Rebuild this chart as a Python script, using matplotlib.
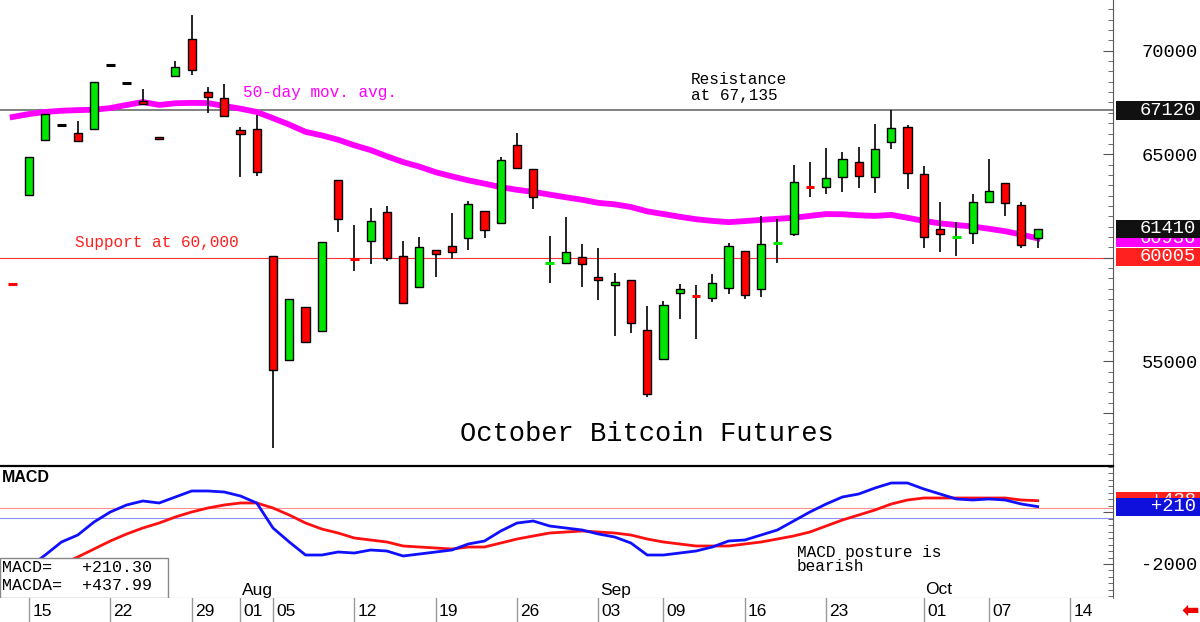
import numpy as np
import pandas as pd
import matplotlib
matplotlib.use('Agg')
import matplotlib.pyplot as plt
from matplotlib.patches import Rectangle
from matplotlib.ticker import FixedLocator, MultipleLocator

plt.rcParams['axes.unicode_minus'] = False
MONO = 'Liberation Mono'
SANS = 'Liberation Sans'

# daily bars, 12 Jul - 10 Oct (CME business days)
opens = [58740, 63030, 65690, 66410, 66030, 66220, 69310, 68440, 67570, 65830,
         68780, 70570, 68010, 67720, 66170, 66220, 60085, 55060, 57620, 56460,
         63760, 59960, 60810, 62210, 60080, 58590, 60380, 60570, 60950, 62260,
         61680, 65450, 64290, 59740, 59750, 60040, 59070, 58690, 58920, 56510,
         55110, 58300, 58160, 58060, 58540, 60330, 58490, 60700, 61150, 63430,
         63420, 63900, 64630, 63900, 65590, 66320, 64050, 61390, 60990, 61200,
         62690, 63610, 62550, 60950]
highs = [58740, 64870, 66940, 66410, 66610, 68490, 69310, 68440, 68150, 65830,
         69500, 71730, 68250, 68390, 66320, 66900, 60085, 58010, 57620, 60760,
         63760, 61580, 62400, 62500, 60810, 61000, 60380, 62160, 62740, 62260,
         64870, 66030, 64290, 61050, 61970, 60670, 60470, 59270, 58920, 57670,
         57910, 58730, 58680, 59220, 60710, 60330, 62020, 61870, 64480, 64630,
         65300, 65110, 65350, 66460, 67140, 66410, 64430, 62690, 61730, 63080,
         64770, 63610, 62690, 61410]
lows = [58720, 63030, 65690, 66410, 65640, 66220, 69310, 68440, 67430, 65730,
        68780, 68830, 66990, 66850, 63900, 63950, 50810, 55060, 55930, 56460,
        61240, 59360, 59700, 59840, 57820, 58590, 59070, 59940, 60380, 60950,
        61680, 64340, 62360, 58780, 59750, 58590, 57960, 56220, 56370, 53280,
        55110, 57040, 56080, 57870, 58250, 58010, 58110, 59750, 61050, 62940,
        63080, 63180, 63370, 63130, 65250, 63320, 60470, 60280, 60080, 60670,
        62690, 62020, 60470, 60470]
closes = [58720, 64870, 66940, 66410, 65640, 68490, 69310, 68440, 67430, 65730,
          69210, 69070, 67770, 66850, 65980, 64140, 54580, 58010, 55930, 60760,
          61870, 59940, 61780, 59990, 57820, 60520, 60180, 60280, 62600, 61340,
          64720, 64340, 62940, 59760, 60280, 59700, 58920, 58830, 56850, 53420,
          57720, 58490, 58140, 58780, 60570, 58200, 60670, 60720, 63660, 63410,
          63850, 64770, 63950, 65250, 66270, 64090, 61000, 61150, 61010, 62690,
          63220, 62640, 60620, 61410]
ma50 = [66800, 66940, 67040, 67100, 67130, 67150, 67230, 67380, 67520, 67380,
        67460, 67480, 67470, 67330, 67200, 67040, 66740, 66430, 66080, 65910,
        65700, 65430, 65200, 64900, 64620, 64400, 64130, 63930, 63740, 63580,
        63410, 63280, 63180, 63050, 62920, 62800, 62650, 62580, 62450, 62240,
        62110, 61980, 61860, 61780, 61720, 61770, 61830, 61880, 61930, 62020,
        62110, 62100, 62050, 62020, 62070, 61930, 61780, 61660, 61580, 61510,
        61400, 61280, 61120, 60936]
macd = [-2600, -2116, -1654, -1153, -884, -383, 2, 272, 426, 349,
        580, 811, 811, 772, 618, 349, -614, -1153, -1654, -1654,
        -1538, -1577, -1461, -1500, -1692, -1615, -1538, -1461, -1230, -1115,
        -730, -422, -345, -537, -614, -691, -845, -960, -1192, -1654,
        -1654, -1577, -1500, -1346, -1115, -1076, -884, -691, -345, 2,
        310, 580, 695, 926, 1119, 1119, 888, 695, 503, 464,
        503, 464, 310, 210.30]
macda = [-2880, -2578, -2270, -2000, -1730, -1423, -1115, -845, -614, -422,
         -190, 2, 156, 272, 349, 349, 156, -114, -422, -653,
         -807, -999, -1076, -1153, -1307, -1346, -1384, -1423, -1346, -1346,
         -1192, -1038, -922, -807, -768, -730, -768, -807, -884, -1038,
         -1153, -1230, -1307, -1307, -1307, -1230, -1153, -1038, -922, -768,
         -537, -306, -114, 79, 310, 464, 541, 541, 541, 541,
         541, 541, 464, 437.99]

support = 60005
resistance = 67120
last_price = 61410
last_ma = 60936
macd_lines = [170, -230]

tick_dates = ['2024-07-15', '2024-07-22', '2024-07-29', '2024-08-01', '2024-08-05',
              '2024-08-12', '2024-08-19', '2024-08-26', '2024-09-03', '2024-09-09',
              '2024-09-16', '2024-09-23', '2024-10-01', '2024-10-07', '2024-10-14']
month_labels = {'2024-08-01': 'Aug', '2024-09-03': 'Sep', '2024-10-01': 'Oct'}

days = pd.bdate_range('2024-07-12', '2024-10-14')
days = days[days != pd.Timestamp('2024-09-02')]
x = np.arange(len(opens))

W, H = 1200.0, 622.0
fig = plt.figure(figsize=(12, 6.22), dpi=100)


def fbox(l, t, r, b):
    return [l / W, 1 - b / H, (r - l) / W, (b - t) / H]


ax = fig.add_axes(fbox(0, 0, 1113, 466))
axm = fig.add_axes(fbox(0, 466, 1113, 598))
axd = fig.add_axes(fbox(0, 598, 1113, 622))
for a in (ax, axm, axd):
    a.set_xlim(-0.78, 67.63)
    a.set_xticks([])

# ---- price panel
o, h, l, c = map(np.array, (opens, highs, lows, closes))
body = np.abs(c - o)
col = np.where(c > o, '#00e600', np.where(c < o, '#ff0000', 'black'))
dash = body < 60
full = ~dash

ax.axhline(resistance, color='#777777', lw=1.3, zorder=1)
ax.axhline(support, color='#ff3030', lw=0.8, zorder=1)
ax.plot(x, ma50, color='#ff00ff', lw=4.2, zorder=1.5)
ax.vlines(x, l, h, color='black', lw=1.2, zorder=2)
ax.bar(x[full], body[full], bottom=np.minimum(o, c)[full], width=0.5,
       color=col[full], edgecolor='black', lw=1.0, zorder=3)
ax.hlines(c[dash], x[dash] - 0.27, x[dash] + 0.27, colors=col[dash], lw=2.2, zorder=3)
ax.set_ylim(49941, 72449)

ax.text(243 / 1113, 1 - 93 / 466, '50-day mov. avg.', transform=ax.transAxes,
        color='#ff00ff', fontsize=11.6, family=MONO, va='center')
ax.text(75 / 1113, 1 - 243 / 466, 'Support at 60,000', transform=ax.transAxes,
        color='#ff2020', fontsize=11.6, family=MONO, va='center')
ax.text(691 / 1113, 1 - 72 / 466, 'Resistance\nat 67,135', transform=ax.transAxes,
        color='black', fontsize=11.6, family=MONO, va='top', linespacing=1.1)
ax.text(460 / 1113, 1 - 434 / 466, 'October Bitcoin Futures', transform=ax.transAxes,
        color='black', fontsize=19.5, family=MONO, va='center')

ax.yaxis.tick_right()
ax.yaxis.set_major_locator(FixedLocator([52500, 55000, 60000, 65000, 70000]))
ax.yaxis.set_minor_locator(MultipleLocator(500))
ax.set_yticklabels(['', '55000', '', '65000', '70000'], ha='right', family=MONO, fontsize=13.5)
ax.tick_params(axis='y', which='major', direction='in', length=7, color='#555555', pad=61)
ax.tick_params(axis='y', which='minor', direction='in', length=3.5, color='#555555')
for s in ('top', 'left', 'bottom'):
    ax.spines[s].set_visible(False)
ax.spines['right'].set_color('#555555')

# ---- MACD panel
axm.axhline(macd_lines[0], color='#ff9090', lw=0.8, zorder=1)
axm.axhline(macd_lines[1], color='#9090ff', lw=0.8, zorder=1)
axm.plot(x, macda, color='#ff1010', lw=2.0, zorder=2)
axm.plot(x, macd, color='#1010ff', lw=2.0, zorder=3)
axm.set_ylim(-3309, 1773)
axm.yaxis.tick_right()
axm.yaxis.set_major_locator(FixedLocator([-2000, 0]))
axm.yaxis.set_minor_locator(MultipleLocator(250))
axm.set_yticklabels(['-2000', ''], ha='right', family=MONO, fontsize=13.5)
axm.tick_params(axis='y', which='major', direction='in', length=7, color='#555555', pad=61)
axm.tick_params(axis='y', which='minor', direction='in', length=3.5, color='#555555')
axm.spines['left'].set_visible(False)
axm.spines['top'].set_color('black')
axm.spines['top'].set_linewidth(1.6)
axm.spines['right'].set_color('#555555')
axm.spines['bottom'].set_color('#888888')

axm.text(0.002, 1 - 12 / 132, 'MACD', transform=axm.transAxes, fontsize=11.5,
         family=SANS, weight='bold', va='center')
axm.text(797 / 1113, 1 - 545 / 132 + 466 / 132, 'MACD posture is\nbearish',
         transform=axm.transAxes, fontsize=11.6, family=MONO, va='top', linespacing=0.95)
axm.add_patch(Rectangle((0, 0), 168 / 1113, 40 / 132, transform=axm.transAxes,
                        fc='white', ec='#888888', lw=1, zorder=5, clip_on=False))
axm.text(0.002, 31 / 132, 'MACD=   %+.2f' % macd[-1], transform=axm.transAxes,
         fontsize=12, family=MONO, va='center', zorder=6)
axm.text(0.002, 12 / 132, 'MACDA=  %+.2f' % macda[-1], transform=axm.transAxes,
         fontsize=12, family=MONO, va='center', zorder=6)

# ---- date strip
for s in axd.spines.values():
    s.set_visible(False)
axd.set_yticks([])
axd.set_ylim(0, 1)
for d in tick_dates:
    pos = days.get_loc(pd.Timestamp(d))
    axd.axvline(pos, color='#999999', lw=1)
    axd.text(pos + 0.2, 0.45, pd.Timestamp(d).strftime('%d'), fontsize=12.5,
             family=SANS, va='center')
    if d in month_labels:
        axm.text(pos + 0.1, 8 / 132, month_labels[d], transform=axm.get_xaxis_transform(),
                 fontsize=12.5, family=SANS, va='center')

# ---- value boxes on right scale
fig.canvas.draw()
zo = [10]


def value_box(axis, v, text, fc, shift=0, hgt=18):
    yc = axis.transData.transform((0, v))[1] + shift
    fig.add_artist(Rectangle((1116 / W, (yc - hgt / 2) / H), 84 / W, hgt / H,
                             transform=fig.transFigure, fc=fc, ec='none', zorder=zo[0]))
    fig.text(1196 / W, yc / H, text, color='white', ha='right', va='center',
             fontsize=13.5, family=MONO, zorder=zo[0] + 1)
    zo[0] += 2


value_box(ax, resistance, '%d' % resistance, '#111111', hgt=19)
value_box(ax, last_ma, '%d' % last_ma, '#ff00ff')
value_box(ax, last_price, '%d' % last_price, '#111111')
value_box(ax, support, '%d' % support, '#ff2020', shift=1)
value_box(axm, macda[-1], '%+d' % round(macda[-1]), '#ff2020')
value_box(axm, macd[-1], '%+d' % round(macd[-1]), '#1010dd')

fig.text(1190 / W, 1 - 611 / H, '\u2b05', color='#ee0000', fontsize=15,
         family='DejaVu Sans', weight='bold', ha='center', va='center')

fig.savefig('out.png', dpi=100)
